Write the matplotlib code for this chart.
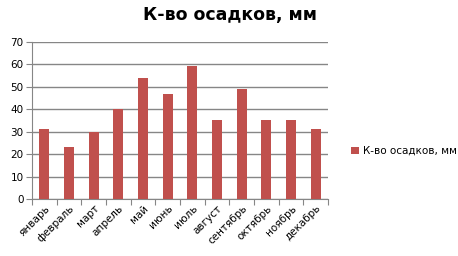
import matplotlib
matplotlib.use("Agg")
import matplotlib.pyplot as plt

months = ["январь", "февраль", "март", "апрель", "май", "июнь", "июль",
          "август", "сентябрь", "октябрь", "ноябрь", "декабрь"]
values = [31, 23, 30, 40, 54, 47, 59.5, 35.3, 49, 35.3, 35.3, 31]
series_name = "К-во осадков, мм"
yticks = [0, 10, 20, 30, 40, 50, 60, 70]

plt.rcParams['font.family'] = ['DejaVu Sans']
fig = plt.figure(figsize=(4.58, 2.56), dpi=100)
ax = fig.add_axes([32/458, 1-199/256, (328-32)/458, (199-42)/256])

x = list(range(len(months)))
bars = ax.bar(x, values, width=0.41, color="#C0504D", label=series_name, zorder=3)
ax.set_xlim(-0.5, len(months)-0.5)
ax.set_ylim(0, 70)
ax.set_yticks(yticks)
ax.yaxis.grid(True, color="#868686", linewidth=1, zorder=0)
for s in ["top", "right"]:
    ax.spines[s].set_visible(False)
for s in ["left", "bottom"]:
    ax.spines[s].set_color("#868686")
ax.set_xticks([i - 0.5 for i in range(len(months)+1)], minor=False)
ax.set_xticklabels([])
ax.set_xticks(x, minor=True)
ax.set_xticklabels(months, minor=True, rotation=45, ha="right", rotation_mode="anchor", fontsize=7.5)
ax.tick_params(axis="x", which="minor", length=0, pad=3)
ax.tick_params(axis="x", which="major", length=4, color="#868686", direction="out")
ax.tick_params(axis="y", length=4, color="#868686", labelsize=7.5, pad=2)

fig.text(0.503, 0.94, series_name, ha="center", va="center", fontsize=12.5, fontweight="bold")
fig.legend(handles=[bars], labels=[series_name], loc="center left",
           bbox_to_anchor=(342/458, 1-151/256), frameon=False, fontsize=7.5,
           handlelength=0.7, handleheight=0.7, handletextpad=0.4)

fig.savefig("out.png", dpi=100)
